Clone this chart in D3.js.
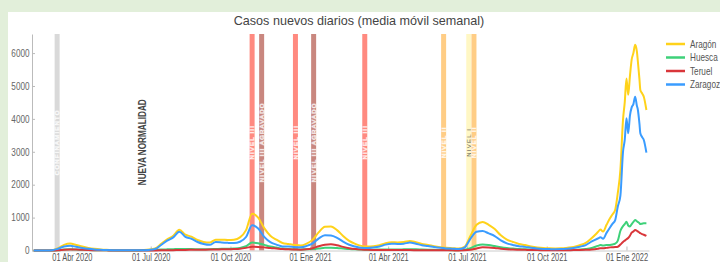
<!DOCTYPE html>
<html><head><meta charset="utf-8">
<script src="https://cdn.jsdelivr.net/npm/d3@7"></script>
<style>
html,body{margin:0;padding:0;background:#e2efda;}
svg{display:block;}
</style></head>
<body>
<svg id="chart" width="720" height="262"></svg>
<script>
// ---------------- DATA ----------------
const dates = [
"2020-02-17","2020-02-24","2020-03-02","2020-03-09","2020-03-16","2020-03-23","2020-03-30","2020-04-06","2020-04-13","2020-04-20",
"2020-04-27","2020-05-04","2020-05-11","2020-05-18","2020-05-25","2020-06-01","2020-06-08","2020-06-15","2020-06-22","2020-06-29",
"2020-07-06","2020-07-13","2020-07-20","2020-07-27","2020-08-03","2020-08-10","2020-08-17","2020-08-24","2020-08-31","2020-09-07",
"2020-09-14","2020-09-21","2020-09-28","2020-10-05","2020-10-12","2020-10-19","2020-10-26","2020-11-02","2020-11-09","2020-11-16",
"2020-11-23","2020-11-30","2020-12-07","2020-12-14","2020-12-21","2020-12-28","2021-01-04","2021-01-11","2021-01-18","2021-01-25",
"2021-02-01","2021-02-08","2021-02-15","2021-02-22","2021-03-01","2021-03-08","2021-03-15","2021-03-22","2021-03-29","2021-04-05",
"2021-04-12","2021-04-19","2021-04-26","2021-05-03","2021-05-10","2021-05-17","2021-05-24","2021-05-31","2021-06-07","2021-06-14",
"2021-06-21","2021-06-28","2021-07-05","2021-07-12","2021-07-19","2021-07-26","2021-08-02","2021-08-09","2021-08-16","2021-08-23",
"2021-08-30","2021-09-06","2021-09-13","2021-09-20","2021-09-27","2021-10-04","2021-10-11","2021-10-18","2021-10-25","2021-11-01",
"2021-11-08","2021-11-15","2021-11-22","2021-11-29",
"2021-12-02","2021-12-05","2021-12-09","2021-12-13","2021-12-16","2021-12-19","2021-12-22","2021-12-25","2021-12-28","2021-12-30",
"2022-01-01","2022-01-03","2022-01-05","2022-01-07","2022-01-09","2022-01-11","2022-01-13","2022-01-14","2022-01-16","2022-01-17",
"2022-01-19","2022-01-21","2022-01-24"];

const aragon = [
0,0,1,8,70,170,210,170,120,80,
52,32,20,12,8,6,5,8,15,28,
60,200,340,450,630,480,420,320,260,240,
330,330,320,330,400,620,1120,1000,680,450,
330,230,200,170,150,210,330,560,720,730,
620,440,290,200,140,120,130,160,220,250,
245,255,290,250,200,170,130,100,80,70,
60,110,450,780,870,780,650,460,330,260,
200,165,125,95,75,65,60,65,85,110,
160,230,380,560,
640,575,780,980,1100,1240,1750,2450,3970,4500,
5230,4730,5300,5800,6000,6250,6050,5790,5200,4880,
4780,4675,4270];

const huesca = [
0,0,0,1,10,28,35,30,22,15,
10,6,4,3,2,1,1,2,4,9,
15,28,35,40,45,45,42,40,38,40,
45,50,50,60,80,130,240,220,170,120,
90,60,45,35,30,35,45,60,80,85,
75,60,45,35,28,25,25,28,30,32,
32,35,38,35,30,25,20,15,12,10,
10,20,70,150,185,170,135,100,75,60,
45,35,28,22,18,15,14,15,18,22,
30,45,75,140,
165,150,165,170,185,210,300,600,740,800,
875,760,730,800,870,925,890,870,830,805,
815,825,827];

const teruel = [
0,0,0,0,5,22,30,28,20,14,
10,6,4,2,1,1,0,0,1,1,
2,4,7,10,15,18,20,22,25,28,
30,35,38,45,55,80,115,110,95,75,
60,45,35,30,25,35,70,130,175,190,
160,110,70,45,30,20,15,12,12,12,
12,12,12,10,8,8,6,5,4,4,
3,5,20,60,95,90,75,55,40,30,
25,20,15,12,10,8,8,8,10,12,
15,20,30,55,
70,65,80,95,100,105,115,180,260,300,
340,380,450,540,580,620,600,580,545,525,
500,480,441];

const zaragoza = [
0,0,1,7,55,120,145,112,78,51,
32,20,12,7,5,4,4,6,10,18,
43,168,298,400,570,417,358,258,197,172,
255,245,232,225,265,410,765,670,415,255,
180,125,120,105,95,140,215,370,465,455,
385,270,175,120,82,75,90,120,178,206,
201,208,240,205,162,137,104,80,64,56,
47,85,360,570,590,520,440,305,215,170,
130,110,82,61,47,42,38,42,57,76,
115,165,275,365,
400,360,535,700,815,925,1335,1670,3000,3360,
4018,3562,4100,4350,4450,4675,4400,4300,3850,3562,
3450,3358,2973];

const seriesNames = ["Aragón","Huesca","Teruel","Zaragoza"];

const bandDates  = ["2020-03-15","2020-10-26","2020-11-06","2020-12-15","2021-01-05","2021-03-05","2021-06-04","2021-07-03","2021-07-09"];
const bandLabels = ["CONFINAMIENTO","NIVEL III","NIVEL III AGRAVADO","NIVEL III","NIVEL III AGRAVADO","NIVEL III","NIVEL II","NIVEL I","NIVEL II"];
const bandKinds  = ["confinamiento","nivel3","nivel3a","nivel3","nivel3a","nivel3","nivel2","nivel1","nivel2"];

const markerDates  = ["2020-06-21"];
const markerLabels = ["NUEVA NORMALIDAD"];

const xTickDates  = ["2020-04-01","2020-07-01","2020-10-01","2021-01-01","2021-04-01","2021-07-01","2021-10-01","2022-01-01"];
const xTickLabels = ["01 Abr 2020","01 Jul 2020","01 Oct 2020","01 Ene 2021","01 Abr 2021","01 Jul 2021","01 Oct 2021","01 Ene 2022"];
const yTicks = [0,1000,2000,3000,4000,5000,6000];

const title = "Casos nuevos diarios (media móvil semanal)";

// ---------------- STYLE ----------------
const seriesColors = {"Aragón":"#ffd21a","Huesca":"#3ed179","Teruel":"#d9363a","Zaragoza":"#3a9cff"};
const bandFill = {confinamiento:"#d9d9d9", nivel3:"#ff8a80", nivel3a:"#c9877f", nivel2:"#ffcd85", nivel1:"#fff7c4"};
const bandText = {confinamiento:"#ffffff", nivel3:"#ffffff", nivel3a:"#ffffff", nivel2:"#ffffff", nivel1:"#555555"};
const sans = "'Liberation Sans',Arial,sans-serif";
const SQ = 0.82; // horizontal squeeze to mimic a narrow face

const parse = d3.timeParse("%Y-%m-%d");
const svg = d3.select("#chart");

svg.append("rect").attr("width",720).attr("height",262).attr("fill","#e2efda");
svg.append("rect").attr("x",8).attr("y",12).attr("width",712).attr("height",250).attr("fill","#ffffff");

const x = d3.scaleTime().domain([parse("2020-02-15"), parse("2022-01-27")]).range([32, 649]);
const y = d3.scaleLinear().domain([0, 6580]).range([250.5, 34]);

// bands
const bandW = 5;
const bands = svg.append("g");
bandDates.forEach((d,i)=>{
  const cx = x(parse(d));
  bands.append("rect").attr("x",cx-bandW/2).attr("y",y(6580)).attr("width",bandW)
    .attr("height",y(0)-y(6580)).attr("fill",bandFill[bandKinds[i]]);
  const cy = (y(0)+y(6580))/2;
  bands.append("text").attr("transform",`translate(${cx+2.2},${cy}) rotate(-90)`)
    .attr("text-anchor","middle").attr("font-family",sans)
    .attr("font-size",6).attr("letter-spacing",1.2)
    .attr("fill",bandText[bandKinds[i]])
    .attr("stroke", bandKinds[i]==="nivel1" ? "none" : "rgba(255,255,255,0.45)")
    .attr("stroke-width",1.2).attr("paint-order","stroke")
    .text(bandLabels[i]);
});
markerDates.forEach((d,i)=>{
  const cx = x(parse(d));
  const cy = (y(0)+y(6580))/2;
  svg.append("text").attr("transform",`translate(${cx+3.5},${cy}) rotate(-90) scale(${SQ},1)`)
    .attr("text-anchor","middle").attr("font-family",sans).attr("font-weight","bold")
    .attr("font-size",10).attr("fill","#444").text(markerLabels[i]);
});

// axes
const yAxis = svg.append("g").attr("transform","translate(32,0)")
  .call(d3.axisLeft(y).tickValues(yTicks).tickSize(-3).tickSizeOuter(0).tickPadding(3).tickFormat(d3.format("d")));
yAxis.select(".domain").attr("stroke","#bbb");
yAxis.selectAll(".tick line").attr("stroke","#bbb");
yAxis.selectAll("text").attr("fill","#666").attr("font-family",sans).attr("font-size",10)
  .attr("transform",`scale(${SQ},1)`);

const xAxis = svg.append("g").attr("transform",`translate(0,${y(0)})`)
  .call(d3.axisBottom(x).tickValues(xTickDates.map(parse)).tickSize(-4).tickSizeOuter(0).tickPadding(3)
    .tickFormat((d,i)=>xTickLabels[i]));
xAxis.select(".domain").attr("stroke","#ccc");
xAxis.selectAll(".tick line").attr("stroke","#bbb");
xAxis.selectAll("text").attr("fill","#555").attr("font-family",sans).attr("font-size",10.2)
  .attr("transform",`scale(0.73,1)`);

// lines
const seriesData = [aragon, huesca, teruel, zaragoza];
const line = d3.line().x((d,i)=>x(parse(dates[i]))).y(d=>y(d)).curve(d3.curveMonotoneX);
seriesData.forEach((s,k)=>{
  svg.append("path").datum(s).attr("d",line).attr("fill","none")
    .attr("stroke",seriesColors[seriesNames[k]]).attr("stroke-width",2).attr("stroke-linejoin","round");
});

// legend
const leg = svg.append("g");
seriesNames.forEach((n,i)=>{
  const ly = 44 + i*13.5;
  leg.append("line").attr("x1",666).attr("x2",685).attr("y1",ly).attr("y2",ly)
    .attr("stroke",seriesColors[n]).attr("stroke-width",2.5);
  leg.append("text").attr("transform",`translate(690,${ly+3.5}) scale(${SQ},1)`)
    .attr("font-family",sans).attr("font-size",10)
    .attr("fill","#555").text(n);
});

// title
svg.append("text").attr("x",359).attr("y",25).attr("text-anchor","middle")
  .attr("font-family",sans).attr("font-size",12.6).attr("fill","#444").text(title);
</script>
</body></html>
